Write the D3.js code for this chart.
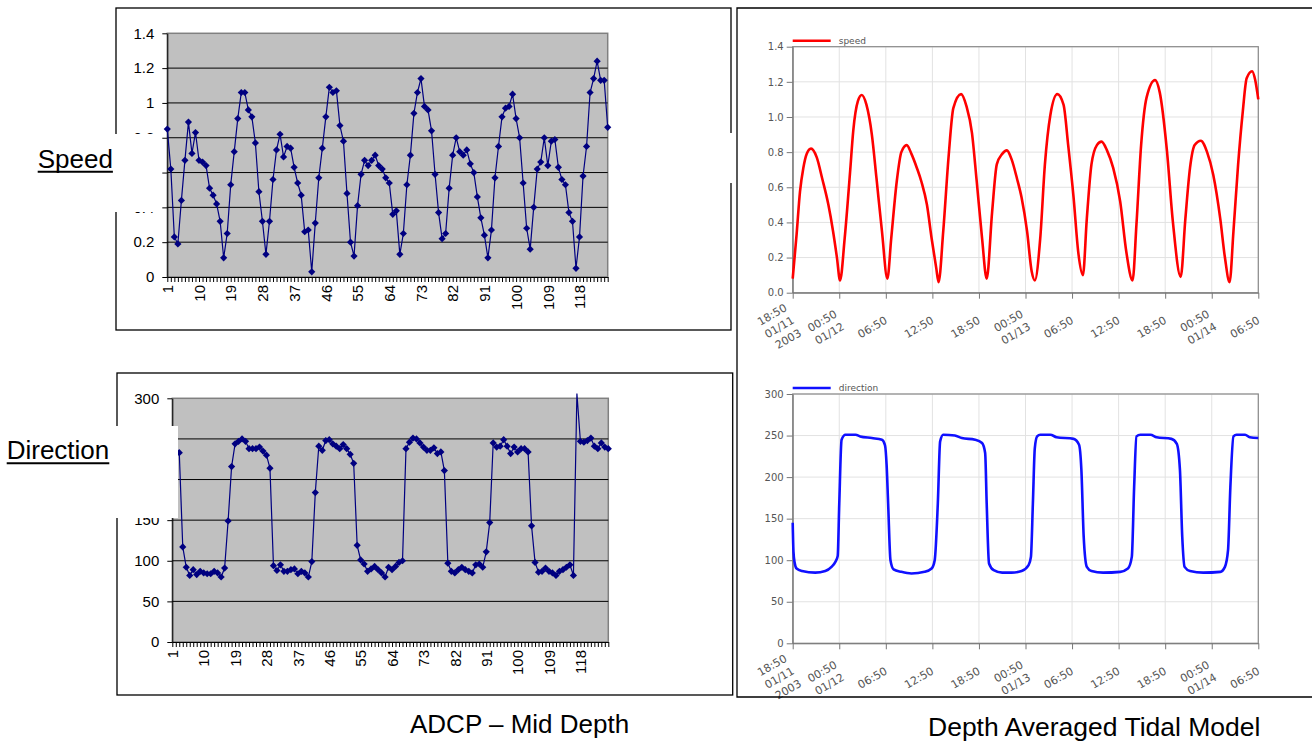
<!DOCTYPE html>
<html>
<head>
<meta charset="utf-8">
<title>ADCP vs tidal model</title>
<script src="https://cdn.jsdelivr.net/npm/d3@7"></script>
<style>
  body { margin: 0; background: #fff; }
  svg { display: block; }
</style>
</head>
<body>
<div class="chart"></div>
<script>
// ---- values ----
// ADCP mid depth, one value per sample (x axis = sample number)
var adcpSpeed = [
  0.85, 0.62, 0.23, 0.19, 0.44, 0.67, 0.89, 0.71, 0.83, 0.67,
  0.66, 0.64, 0.51, 0.47, 0.42, 0.32, 0.11, 0.25, 0.53, 0.72,
  0.91, 1.06, 1.06, 0.96, 0.92, 0.77, 0.49, 0.32, 0.13, 0.32,
  0.56, 0.73, 0.82, 0.69, 0.75, 0.74, 0.63, 0.54, 0.47, 0.26,
  0.27, 0.03, 0.31, 0.57, 0.74, 0.92, 1.09, 1.06, 1.07, 0.87,
  0.78, 0.48, 0.20, 0.12, 0.41, 0.59, 0.67, 0.64, 0.67, 0.70,
  0.64, 0.62, 0.57, 0.54, 0.36, 0.38, 0.13, 0.25, 0.53, 0.70,
  0.94, 1.06, 1.14, 0.98, 0.96, 0.84, 0.59, 0.37, 0.22, 0.25,
  0.51, 0.70, 0.80, 0.72, 0.70, 0.73, 0.65, 0.60, 0.46, 0.34,
  0.24, 0.11, 0.27, 0.57, 0.75, 0.92, 0.97, 0.98, 1.05, 0.91,
  0.80, 0.54, 0.28, 0.16, 0.40, 0.62, 0.66, 0.80, 0.64, 0.78,
  0.79, 0.63, 0.56, 0.53, 0.37, 0.32, 0.05, 0.23, 0.58, 0.75,
  1.06, 1.14, 1.24, 1.13, 1.13, 0.86
];
var adcpDirection = [
  236, 234, 233, 117, 92, 82, 89, 83, 87, 85,
  84, 84, 87, 85, 80, 91, 149, 216, 244, 247,
  250, 247, 238, 238, 238, 240, 235, 230, 214, 94,
  88, 95, 87, 87, 89, 90, 84, 87, 85, 80,
  99, 184, 241, 236, 248, 249, 244, 241, 238, 243,
  238, 231, 220, 119, 101, 96, 87, 90, 93, 89,
  85, 80, 92, 89, 93, 98, 100, 238, 246, 251,
  250, 245, 240, 236, 236, 239, 232, 234, 211, 97,
  87, 85, 89, 92, 89, 87, 85, 95, 96, 92,
  111, 147, 245, 240, 241, 249, 241, 232, 240, 234,
  238, 238, 234, 143, 98, 86, 87, 91, 87, 85,
  82, 87, 89, 92, 95, 82, 306, 247, 246, 248,
  251, 241, 238, 245, 240, 238
];
var adcpLabels = [1, 10, 19, 28, 37, 46, 55, 64, 73, 82, 91, 100, 109, 118];
var speedTicks = [0, 0.2, 0.4, 0.6, 0.8, 1, 1.2, 1.4];
var directionTicks = [0, 50, 100, 150, 200, 250, 300];

// depth averaged tidal model, hours after 18:50 01/11/2003
var modelSpeedHours = [
  0, 0.5, 0.94, 1.37, 1.8, 2.36, 3.1, 3.8, 4.6, 5.2, 5.7, 6.1,
  6.7, 7.4, 7.8, 8.4, 8.9, 9.5, 10.2, 10.8, 11.5, 12.2,
  12.7, 13.4, 14.0, 14.7, 15.3, 16.0, 16.6, 17.3, 17.9, 18.5, 18.8,
  19.4, 20.1, 20.7, 21.7, 22.4, 23.1, 23.7, 24.4, 25.0,
  25.7, 26.3, 27.0, 27.6, 28.2, 28.9, 29.5, 30.2, 30.8, 31.2,
  31.9, 32.5, 33.2, 34.1, 34.9, 35.5, 36.2, 36.8, 37.4,
  37.9, 38.5, 39.2, 39.8, 40.5, 41.3, 42.2, 43.0, 43.8,
  44.3, 44.9, 45.6, 46.7, 47.3, 48.2, 49.0, 50.0,
  50.6, 51.2, 51.8, 52.6, 53.4, 54.2, 55.1, 55.7, 56.3,
  56.8, 57.4, 58.0, 58.5, 59.2, 59.6, 60.0
];
var modelSpeed = [
  0.08, 0.33, 0.575, 0.71, 0.79, 0.82, 0.77, 0.65, 0.50, 0.35, 0.20, 0.07,
  0.31, 0.69, 0.92, 1.09, 1.125, 1.07, 0.90, 0.65, 0.35, 0.08,
  0.31, 0.63, 0.80, 0.84, 0.79, 0.71, 0.63, 0.50, 0.31, 0.14, 0.06,
  0.35, 0.78, 1.05, 1.13, 1.06, 0.91, 0.64, 0.31, 0.08,
  0.46, 0.73, 0.79, 0.81, 0.76, 0.65, 0.54, 0.35, 0.12, 0.07,
  0.31, 0.73, 1.01, 1.13, 1.07, 0.84, 0.54, 0.23, 0.10,
  0.42, 0.73, 0.84, 0.86, 0.81, 0.71, 0.52, 0.23, 0.07,
  0.39, 0.84, 1.11, 1.21, 1.14, 0.82, 0.40, 0.09,
  0.42, 0.71, 0.84, 0.865, 0.80, 0.67, 0.42, 0.20, 0.06,
  0.35, 0.73, 1.03, 1.22, 1.26, 1.21, 1.10
];
var modelDirHours = [
  0, 0.1, 0.25, 0.5, 1.2, 2.9, 4.2, 5.0, 5.5, 5.8, 6.0, 6.3, 6.8,
  8.1, 8.7, 10.2, 11.5, 11.9, 12.1, 12.3, 12.6, 13.0, 14.0, 15.3,
  17.0, 17.9, 18.3, 18.7, 19.0, 19.4, 20.9, 21.8, 23.5, 24.4, 24.8,
  25.0, 25.3, 25.9, 27.0, 28.2, 29.5, 30.4, 30.7, 30.95, 31.2, 31.5,
  31.9, 33.2, 34.0, 36.2, 36.9, 37.2, 37.5, 37.9, 38.5, 40.0, 42.2,
  43.2, 43.7, 44.0, 44.3, 44.8, 46.1, 46.9, 48.8, 49.5, 49.9, 50.2,
  50.5, 51.2, 52.9, 55.1, 55.7, 56.1, 56.4, 56.8, 57.2, 58.3, 58.9, 60.0
];
var modelDirection = [
  145, 110, 97, 90, 87, 85, 87, 92, 98, 105, 168, 245, 251,
  251, 249, 247, 245, 238, 215, 168, 100, 89, 86, 84,
  86, 90, 100, 168, 243, 251, 250, 247, 245, 241, 229,
  168, 96, 88, 85, 85, 87, 94, 104, 168, 235, 249,
  251, 251, 248, 246, 239, 209, 128, 92, 87, 85, 86,
  90, 104, 188, 249, 251, 251, 248, 246, 240, 209, 128,
  92, 87, 85, 86, 92, 112, 188, 249, 251, 251, 248, 247
];
var modelTickLabels = [
  ["18:50", "01/11", "2003"], ["00:50", "01/12"], ["06:50"], ["12:50"], ["18:50"],
  ["00:50", "01/13"], ["06:50"], ["12:50"], ["18:50"], ["00:50", "01/14"], ["06:50"]
];
var modelStart = new Date(2003, 0, 11, 18, 50);
var modelStepHours = 6;

// ---- page ----
var svgWidth = 1312;
var svgHeight = 742;
var HOUR = 3600 * 1000;

var svg = d3.select(".chart")
  .append("svg")
  .attr("width", svgWidth)
  .attr("height", svgHeight)
  .style("font-family", "'Liberation Sans', Arial, sans-serif");

svg.append("rect").attr("width", svgWidth).attr("height", svgHeight).attr("fill", "#fff");

// Excel style line chart with diamond markers
function excelChart(cfg) {
  var g = svg.append("g");
  var box = cfg.box, plot = cfg.plot;

  g.append("rect")
    .attr("x", box[0]).attr("y", box[1])
    .attr("width", box[2] - box[0]).attr("height", box[3] - box[1])
    .attr("fill", "#fff").attr("stroke", "#000").attr("stroke-width", 1.3);

  var x = d3.scaleLinear().domain([1, cfg.values.length]).range([plot[0], plot[2]]);
  var y = d3.scaleLinear().domain([cfg.ticks[0], cfg.ticks[cfg.ticks.length - 1]]).range([plot[3], plot[1]]);

  g.append("rect")
    .attr("x", plot[0]).attr("y", plot[1])
    .attr("width", plot[2] - plot[0]).attr("height", plot[3] - plot[1])
    .attr("fill", "#c0c0c0").attr("stroke", "#808080").attr("stroke-width", 1.5);

  // gridlines
  g.selectAll(".grid")
    .data(cfg.ticks.slice(1, -1))
    .enter().append("line")
    .attr("x1", plot[0]).attr("x2", plot[2])
    .attr("y1", function(d) { return y(d); })
    .attr("y2", function(d) { return y(d); })
    .attr("stroke", "#000").attr("stroke-width", 1);

  var yAxis = d3.axisLeft(y)
    .tickValues(cfg.ticks)
    .tickSize(5)
    .tickSizeOuter(0)
    .tickPadding(8)
    .tickFormat(cfg.format);

  var ya = g.append("g").attr("transform", "translate(" + plot[0] + ",0)").call(yAxis);
  ya.selectAll("text").attr("fill", "#000").style("font-size", "15px").style("font-family", "'Liberation Sans', Arial, sans-serif");
  ya.selectAll("line,path").attr("stroke", "#000");

  var samples = cfg.values.map(function(d, i) { return i + 1; });
  var xAxis = d3.axisBottom(x)
    .tickValues(samples)
    .tickSize(5)
    .tickSizeOuter(0)
    .tickFormat(function(d) { return adcpLabels.indexOf(d) >= 0 ? d : ""; });

  var xa = g.append("g").attr("transform", "translate(0," + plot[3] + ")").call(xAxis);
  xa.selectAll("line,path").attr("stroke", "#000");
  xa.selectAll("text")
    .attr("fill", "#000")
    .style("font-size", "15px")
    .style("font-family", "'Liberation Sans', Arial, sans-serif")
    .attr("transform", "rotate(-90)")
    .attr("text-anchor", "end")
    .attr("x", -8)
    .attr("y", 0)
    .attr("dy", "0.35em");

  var line = d3.line()
    .x(function(d, i) { return x(i + 1); })
    .y(function(d) { return y(d); });

  g.append("path")
    .datum(cfg.values)
    .attr("d", line)
    .attr("fill", "none")
    .attr("stroke", "#000080")
    .attr("stroke-width", 1.2);

  var diamond = d3.symbol().type(d3.symbolSquare).size(26);
  var ymax = cfg.ticks[cfg.ticks.length - 1];
  g.selectAll(".mark")
    .data(cfg.values.map(function(v, i) { return {i: i + 1, v: v}; }).filter(function(d) { return d.v <= ymax; }))
    .enter().append("path")
    .attr("d", diamond)
    .attr("transform", function(d) { return "translate(" + x(d.i) + "," + y(d.v) + ") rotate(45)"; })
    .attr("fill", "#000080");
}

excelChart({
  box: [116, 8, 731, 330],
  plot: [167.3, 33.3, 607.7, 277],
  values: adcpSpeed,
  ticks: speedTicks,
  format: function(d) { return d3.format("")(+d.toFixed(1)); }
});

excelChart({
  box: [117, 373, 732.7, 695],
  plot: [172.3, 398.3, 608.3, 642],
  values: adcpDirection,
  ticks: directionTicks,
  format: d3.format("d")
});

// ---- model panel ----
var tickDates = modelTickLabels.map(function(d, i) { return new Date(modelStart.getTime() + i * modelStepHours * HOUR); });

function modelChart(cfg) {
  var g = svg.append("g").style("font-family", "'DejaVu Sans', sans-serif");
  var plot = cfg.plot;

  var x = d3.scaleTime().domain([tickDates[0], tickDates[tickDates.length - 1]]).range([plot[0], plot[2]]);
  var y = d3.scaleLinear().domain([cfg.ticks[0], cfg.ticks[cfg.ticks.length - 1]]).range([plot[3], plot[1]]);

  // grid
  g.selectAll(".hg").data(cfg.ticks).enter().append("line")
    .attr("x1", plot[0]).attr("x2", plot[2])
    .attr("y1", function(d) { return y(d); }).attr("y2", function(d) { return y(d); })
    .attr("stroke", "#e2e2e2").attr("stroke-width", 1);
  g.selectAll(".vg").data(tickDates).enter().append("line")
    .attr("x1", function(d) { return x(d); }).attr("x2", function(d) { return x(d); })
    .attr("y1", plot[1]).attr("y2", plot[3])
    .attr("stroke", "#e2e2e2").attr("stroke-width", 1);

  g.append("rect")
    .attr("x", plot[0]).attr("y", plot[1])
    .attr("width", plot[2] - plot[0]).attr("height", plot[3] - plot[1])
    .attr("fill", "none").attr("stroke", "#8a8a8a").attr("stroke-width", 1.2);

  var ya = g.append("g").attr("transform", "translate(" + plot[0] + ",0)")
    .call(d3.axisLeft(y).tickValues(cfg.ticks).tickSize(6).tickSizeOuter(0).tickPadding(3).tickFormat(cfg.format));
  ya.selectAll("line,path").attr("stroke", "#777");
  ya.selectAll("text").attr("fill", "#555").style("font-size", "10px").style("font-family", "'DejaVu Sans', sans-serif");

  var xa = g.append("g").attr("transform", "translate(0," + plot[3] + ")")
    .call(d3.axisBottom(x).tickValues(tickDates).tickSize(6).tickSizeOuter(0).tickFormat(""));
  xa.selectAll("line,path").attr("stroke", "#777");

  // rotated, multi-line date labels
  var labels = g.selectAll(".xl").data(tickDates).enter().append("text")
    .attr("transform", function(d) { return "translate(" + x(d) + "," + plot[3] + ") rotate(-30)"; })
    .attr("text-anchor", "end")
    .attr("fill", "#555")
    .style("font-size", "11px");
  labels.each(function(d, i) {
    var lines = modelTickLabels[i];
    d3.select(this).selectAll("tspan").data(lines).enter().append("tspan")
      .attr("x", -13)
      .attr("y", function(t, k) { return 27 + (k - (lines.length - 1) / 2) * 14.5; })
      .text(function(t) { return t; });
  });

  var line = d3.line()
    .curve(d3.curveMonotoneX)
    .x(function(d) { return x(new Date(modelStart.getTime() + d[0] * HOUR)); })
    .y(function(d) { return y(d[1]); });

  g.append("path")
    .datum(cfg.hours.map(function(h, i) { return [h, cfg.values[i]]; }))
    .attr("d", line)
    .attr("fill", "none")
    .attr("stroke", cfg.color)
    .attr("stroke-width", 2.6)
    .attr("stroke-linejoin", "round");

  // legend
  g.append("line")
    .attr("x1", plot[0]).attr("x2", plot[0] + 38)
    .attr("y1", plot[1] - 6).attr("y2", plot[1] - 6)
    .attr("stroke", cfg.color).attr("stroke-width", 2.4);
  g.append("text")
    .attr("x", plot[0] + 46).attr("y", plot[1] - 6)
    .attr("dy", "0.35em")
    .attr("fill", "#555")
    .style("font-size", "9px")
    .text(cfg.name);
}

modelChart({
  plot: [792.7, 46.7, 1258.3, 292.7],
  ticks: speedTicks,
  format: d3.format(".1f"),
  hours: modelSpeedHours,
  values: modelSpeed,
  color: "#ff0000",
  name: "speed"
});

modelChart({
  plot: [792.7, 394, 1258.3, 643.3],
  ticks: directionTicks,
  format: d3.format("d"),
  hours: modelDirHours,
  values: modelDirection,
  color: "#1010ff",
  name: "direction"
});

// right panel frame
svg.append("path")
  .attr("d", d3.line()([[1312, 8], [737, 8], [737, 697], [1312, 697]]))
  .attr("fill", "none").attr("stroke", "#000").attr("stroke-width", 1.3);

// white boxes pasted over the Excel charts on the slide
svg.append("rect").attr("x", 0).attr("y", 134).attr("width", 160).attr("height", 78).attr("fill", "#fff");
svg.append("rect").attr("x", 0).attr("y", 426).attr("width", 178).attr("height", 92).attr("fill", "#fff");
svg.append("rect").attr("x", 728).attr("y", 133).attr("width", 6).attr("height", 50).attr("fill", "#fff");

// side labels
function sideLabel(txt, x0, base) {
  var t = svg.append("text")
    .attr("x", x0).attr("y", base)
    .style("font-size", "26px")
    .attr("fill", "#000")
    .text(txt);
  var w = t.node().getComputedTextLength();
  svg.append("line")
    .attr("x1", x0).attr("x2", x0 + w)
    .attr("y1", base + 4).attr("y2", base + 4)
    .attr("stroke", "#000").attr("stroke-width", 2);
}
sideLabel("Speed", 37.7, 167.7);
sideLabel("Direction", 6.7, 459.3);

// captions
svg.append("text").attr("x", 410).attr("y", 733).style("font-size", "26px").attr("fill", "#000").text("ADCP \u2013 Mid Depth");
svg.append("text").attr("x", 928).attr("y", 736).style("font-size", "26.5px").attr("fill", "#000").text("Depth Averaged Tidal Model");
</script>
</body>
</html>
